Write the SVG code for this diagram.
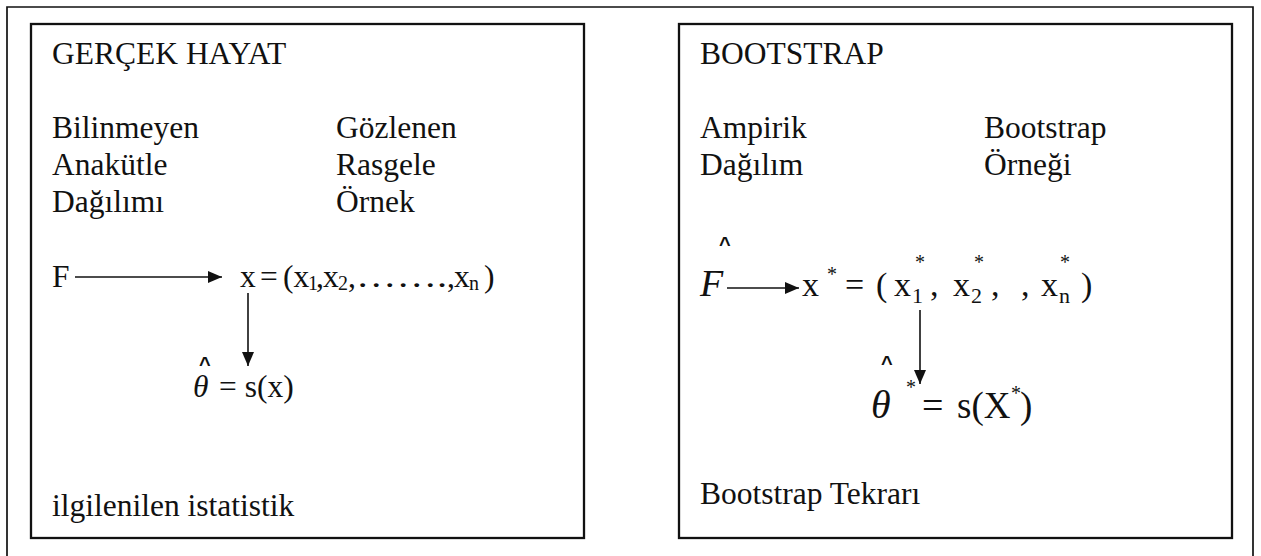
<svg xmlns="http://www.w3.org/2000/svg" width="1261" height="556" viewBox="0 0 1261 556">
<style>
text{font-family:"Liberation Serif","Times New Roman","DejaVu Serif",serif;fill:#111}
.t{font-size:31.5px}
.hat{font-family:"Liberation Sans",Arial,sans-serif;font-size:20px;font-weight:bold}
.box{fill:#fff;stroke:#111;stroke-width:2.3}
.frame{fill:none;stroke:#111;stroke-width:1.7}
.conn{stroke:#111;stroke-width:1.6;fill:none}
</style>
<defs>
<marker id="ah" markerUnits="userSpaceOnUse" markerWidth="15" markerHeight="12" refX="14" refY="6" orient="auto">
<path d="M0,0 L14,6 L0,12 Z" fill="#111"/>
</marker>
</defs>
<rect width="1261" height="556" fill="#fff"/>
<path class="frame" d="M7,560 L7,7 L1253,7 L1253,560"/>
<g id="real-life">
<rect class="box" x="31" y="24" width="553" height="514"/>
<text class="t" x="52" y="64">GERÇEK HAYAT</text>
<text class="t" x="52" y="138">Bilinmeyen</text>
<text class="t" x="52" y="175">Anakütle</text>
<text class="t" x="52" y="212">Dağılımı</text>
<text class="t" x="336" y="138">Gözlenen</text>
<text class="t" x="336" y="175">Rasgele</text>
<text class="t" x="336" y="212">Örnek</text>
<text class="t" x="52" y="287">F</text>
<text class="t" y="287"><tspan x="240">x</tspan><tspan x="260">=</tspan><tspan x="283">(x</tspan><tspan x="308" font-size="20" dy="3">1</tspan><tspan x="316" dy="-3">,</tspan><tspan x="323">x</tspan><tspan x="338" font-size="20" dy="3">2</tspan><tspan x="348" dy="-3">,</tspan></text>
<text class="t" x="356" y="287" textLength="91" lengthAdjust="spacingAndGlyphs">…….</text>
<text class="t" y="287"><tspan x="447">,</tspan><tspan x="454">x</tspan><tspan x="469" font-size="20" dy="3">n</tspan><tspan x="484" dy="-3">)</tspan></text>
<text class="hat" x="199" y="371">^</text>
<text class="t" x="193" y="397" font-style="italic">θ</text>
<text class="t" x="219" y="397">= s(x)</text>
<text class="t" x="52" y="516">ilgilenilen istatistik</text>
</g>
<g id="bootstrap">
<rect class="box" x="679" y="24" width="553" height="514"/>
<text class="t" x="700" y="64">BOOTSTRAP</text>
<text class="t" x="700" y="138">Ampirik</text>
<text class="t" x="700" y="175">Dağılım</text>
<text class="t" x="984" y="138">Bootstrap</text>
<text class="t" x="984" y="175">Örneği</text>
<text class="hat" x="719" y="251">^</text>
<text x="700" y="296" font-size="38" font-style="italic">F</text>
<text x="802" y="296" font-size="34">x</text>
<text x="827" y="281" font-size="20">*</text>
<text x="845" y="296" font-size="34">=</text>
<text x="876" y="296" font-size="34">(</text>
<text x="894" y="296" font-size="34">x</text>
<text x="912" y="303" font-size="22">1</text>
<text x="915" y="269" font-size="20">*</text>
<text x="930" y="296" font-size="34">,</text>
<text x="953" y="296" font-size="34">x</text>
<text x="971" y="303" font-size="22">2</text>
<text x="974" y="269" font-size="20">*</text>
<text x="991" y="296" font-size="34">,</text>
<text x="1021" y="296" font-size="34">,</text>
<text x="1041" y="296" font-size="34">x</text>
<text x="1059" y="303" font-size="22">n</text>
<text x="1060" y="269" font-size="20">*</text>
<text x="1081" y="296" font-size="34">)</text>
<text class="hat" x="881" y="370">^</text>
<text x="871" y="418" font-size="40" font-style="italic">θ</text>
<text x="906" y="394" font-size="20">*</text>
<text x="922" y="418" font-size="38">=</text>
<text x="957" y="418" font-size="37">s(X</text>
<text x="1011" y="400" font-size="20">*</text>
<text x="1020" y="418" font-size="37">)</text>
<text class="t" x="700" y="504">Bootstrap Tekrarı</text>
</g>
<g id="connectors">
<line class="conn" x1="75" y1="277" x2="222" y2="277" marker-end="url(#ah)"/>
<line class="conn" x1="248" y1="293" x2="248" y2="366" marker-end="url(#ah)"/>
<line class="conn" x1="727" y1="288" x2="799" y2="288" marker-end="url(#ah)"/>
<line class="conn" x1="920" y1="310" x2="920" y2="384" marker-end="url(#ah)"/>
</g>
</svg>
